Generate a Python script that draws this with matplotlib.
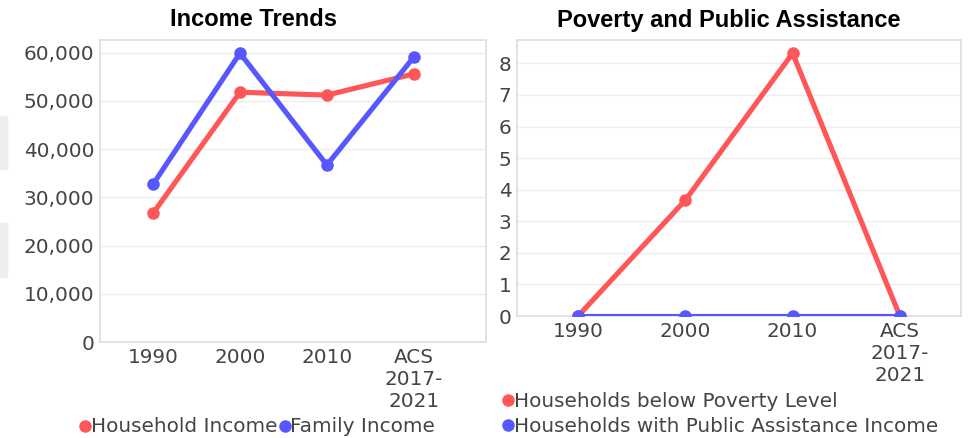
import matplotlib
matplotlib.use("Agg")
import matplotlib.pyplot as plt
from matplotlib.lines import Line2D
from matplotlib.patches import Rectangle
from matplotlib.ticker import FuncFormatter

categories = ["1990", "2000", "2010", "ACS\n2017-\n2021"]
household_income = [26700, 51800, 51200, 55600]
family_income = [32700, 59900, 36700, 59100]
poverty_households = [0, 3.67, 8.32, 0]
public_assistance = [0, 0, 0, 0]

RED = "#ff5757"
BLUE = "#5757ff"
TXT = "#444444"
W, H = 971, 438
FS = 14.4

fig = plt.figure(figsize=(W / 100, H / 100), dpi=100)
fig.patch.set_facecolor("white")

# grey artifacts at left edge
for y0, y1 in [(116, 169), (223, 277)]:
    fig.patches.append(Rectangle((0, 1 - y1 / H), 7 / W, (y1 - y0) / H,
                                 transform=fig.transFigure, color="#eeeeee", zorder=0))

def px_axes(x0, y0, x1, y1):
    return fig.add_axes([x0 / W, 1 - y1 / H, (x1 - x0) / W, (y1 - y0) / H])

def style(ax):
    for s in ax.spines.values():
        s.set_color("#dddddd")
        s.set_linewidth(1.2)
    ax.grid(axis="y", color="#eeeeee", linewidth=1)
    ax.set_axisbelow(True)
    ax.tick_params(length=0, labelsize=FS, labelcolor=TXT, pad=4)

xs = list(range(len(categories)))

ax1 = px_axes(100, 40, 486, 342)
style(ax1)
ax1.plot(xs, household_income, color=RED, lw=3.7, marker="o", ms=8, clip_on=False, zorder=3)
ax1.plot(xs, family_income, color=BLUE, lw=3.7, marker="o", ms=8, clip_on=False, zorder=3)
ax1.set_xlim(-0.61, 3.83)
ax1.set_ylim(0, 62630)
ax1.set_yticks(range(0, 60001, 10000))
ax1.yaxis.set_major_formatter(FuncFormatter(lambda v, p: f"{int(v):,}"))
ax1.set_xticks(xs)
ax1.set_xticklabels(categories, linespacing=1.2)

ax2 = px_axes(517, 40, 961, 316)
style(ax2)
ax2.plot(xs, poverty_households, color=RED, lw=3.7, marker="o", ms=8, zorder=3)
ax2.plot(xs, public_assistance, color=BLUE, lw=3.7, marker="o", ms=8, zorder=4)
ax2.set_xlim(-0.57, 3.57)
ax2.set_ylim(0, 8.74)
ax2.set_yticks(range(0, 9))
ax2.set_xticks(xs)
ax2.set_xticklabels(categories, linespacing=1.2)

fig.text(254 / W, 1 - 20 / H, "Income Trends", fontsize=17, fontweight="bold",
         family="Liberation Sans", ha="center", va="center", color="black")
fig.text(729 / W, 1 - 20 / H, "Poverty and Public Assistance", fontsize=17, fontweight="bold",
         family="Liberation Sans", ha="center", va="center", color="black")

def handle(c):
    return Line2D([], [], color=c, marker="o", linestyle="none", ms=8)

fig.legend([handle(RED), handle(BLUE)], ["Household Income", "Family Income"],
           loc="center left", bbox_to_anchor=(80 / W, 1 - 427 / H), ncol=2, frameon=False,
           handlelength=0.5, handletextpad=0.05, columnspacing=0.1, borderpad=0, borderaxespad=0,
           fontsize=FS, labelcolor=TXT)
fig.legend([handle(RED), handle(BLUE)],
           ["Households below Poverty Level", "Households with Public Assistance Income"],
           loc="center left", bbox_to_anchor=(503 / W, 1 - 414 / H), ncol=1, frameon=False,
           handlelength=0.5, handletextpad=0.05, labelspacing=0.3, borderpad=0, borderaxespad=0,
           fontsize=FS, labelcolor=TXT)

fig.savefig("out.png", dpi=100)
